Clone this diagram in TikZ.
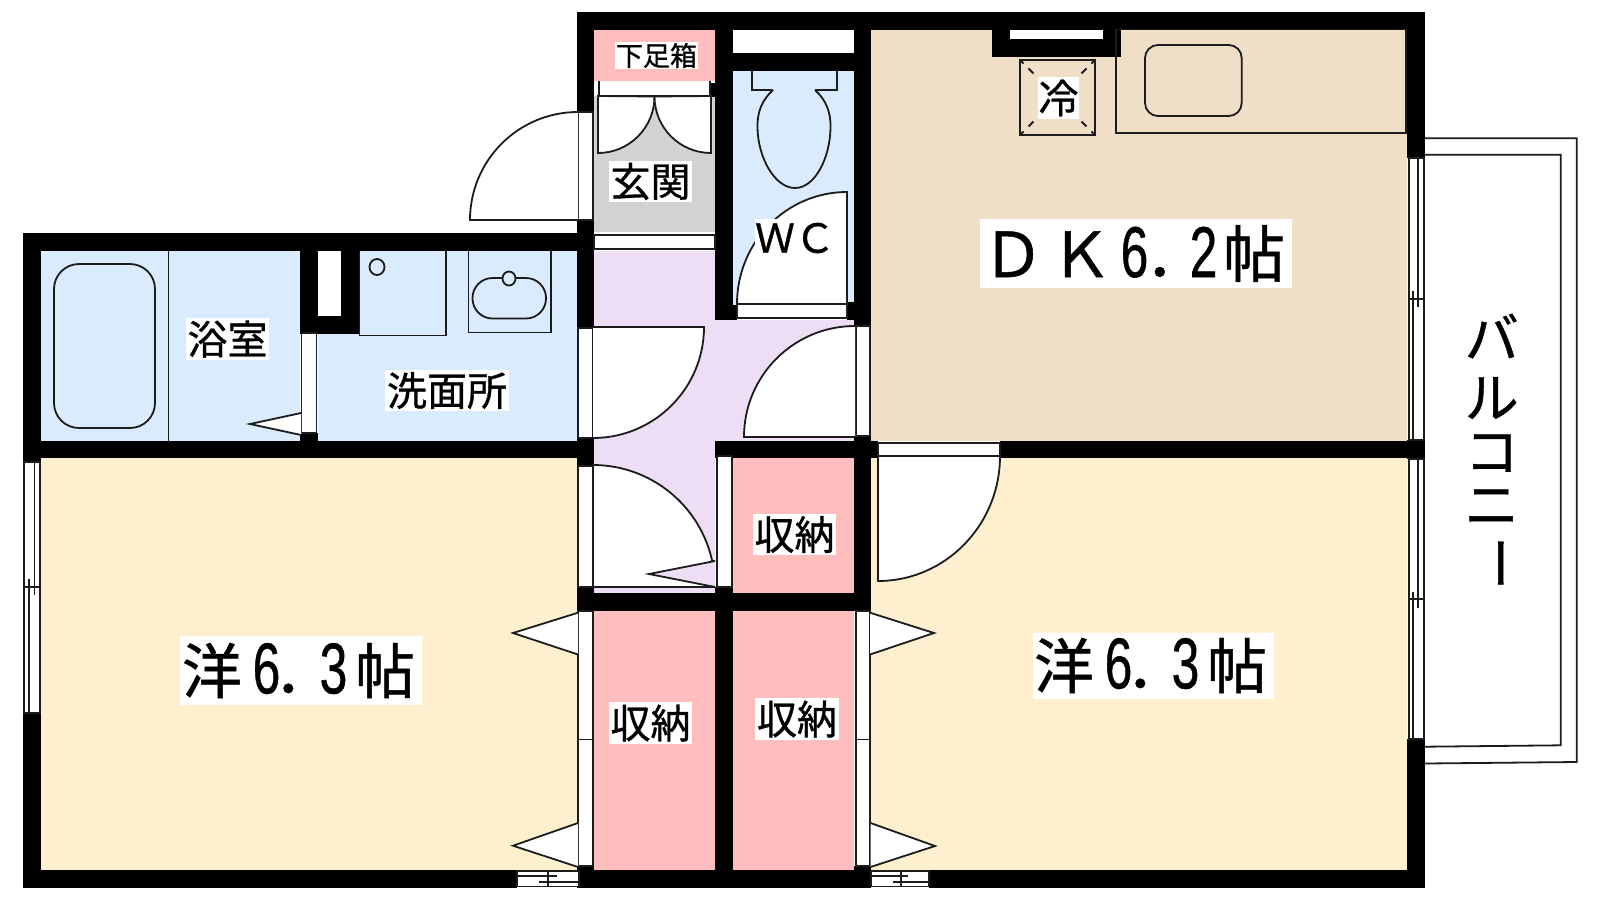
\documentclass[tikz,border=0pt]{standalone}
\usepackage{fontspec}
\setmainfont[FakeBold=0.8]{Noto Sans CJK JP}
\newfontfamily\libfont[FakeBold=0.8]{Liberation Sans}
\definecolor{cblue}{HTML}{DBEBFE}
\definecolor{cpurple}{HTML}{EDDDF5}
\definecolor{cpink}{HTML}{FFBEBE}
\definecolor{ccream}{HTML}{FEF0CF}
\definecolor{cbeige}{HTML}{EEDFC6}
\definecolor{cgray}{HTML}{D2D2D2}
\definecolor{cline}{HTML}{1C1C1C}
\newcommand{\fsz}[1]{\fontsize{#1}{#1}\selectfont}
\newcommand{\dgt}[1]{\makebox[31pt]{\scalebox{0.69}[1]{\libfont\fsz{72}#1}}}
\tikzset{
  ln/.style={draw=cline,line width=1.8pt},
  frm/.style={ln,fill=white},
  wall/.style={fill=black},
  lbl/.style={fill=white,inner sep=0pt,text=black,anchor=center},
}
\begin{document}
\begin{tikzpicture}[x=1pt,y=-1pt]
\useasboundingbox (0,0) rectangle (1600,900);
% room floors
\fill[cbeige] (871,29) rectangle (1407,441);
\fill[ccream] (41,458) rectangle (577,870);
\fill[ccream] (871,458) rectangle (1407,870);
\fill[cblue] (41,251) rectangle (300,441);
\fill[cblue] (300,333) rectangle (577,441);
\fill[cblue] (359,251) rectangle (577,333);
\fill[cblue] (733,71) rectangle (854,305);
\fill[cpurple] (594,251) rectangle (715,593);
\fill[cpurple] (715,320) rectangle (856,441);
\fill[cgray] (594,96) rectangle (715,232);
\fill[cpink] (594,29) rectangle (715,81);
\fill[cpink] (733,458) rectangle (854,593);
\fill[cpink] (594,611) rectangle (715,870);
\fill[cpink] (733,611) rectangle (854,870);
% white strips under door frames
\fill[white] (577,112) rectangle (594,220);
\fill[white] (594,81) rectangle (710,96);
\fill[white] (594,232) rectangle (715,251);
\fill[white] (577,328) rectangle (594,438);
\fill[white] (577,466) rectangle (594,587);
\fill[white] (577,611) rectangle (594,866);
\fill[white] (854,611) rectangle (871,866);
\fill[white] (854,326) rectangle (871,436);
\fill[white] (715,456) rectangle (733,587);
\fill[white] (300,333) rectangle (318,433);
\fill[white] (871,441) rectangle (1000,458);
% walls
\fill[wall] (577,12) rectangle (1425,29.5);
\fill[wall] (577,12) rectangle (594,112);
\fill[wall] (577,219) rectangle (594,328);
\fill[wall] (23,233) rectangle (594,251);
\fill[wall] (23,233) rectangle (41,462);
\fill[wall] (23,713) rectangle (41,888);
\fill[wall] (23,870) rectangle (517,888);
\fill[wall] (579,870) rectangle (871,888);
\fill[wall] (929,870) rectangle (1425,888);
\fill[wall] (577,866) rectangle (594,888);
\fill[wall] (854,866) rectangle (871,888);
\fill[wall] (23,441) rectangle (594,458);
\fill[wall] (577,438) rectangle (594,466);
\fill[wall] (300,251) rectangle (318,333);
\fill[wall] (341,251) rectangle (359.5,333.5);
\fill[wall] (300,316) rectangle (359.5,333.5);
\fill[wall] (300,433) rectangle (318,441);
\fill[wall] (715,12) rectangle (733,320);
\fill[wall] (710,83) rectangle (715,97);
\fill[wall] (733,53) rectangle (854,71);
\fill[wall] (854,12) rectangle (871,326);
\fill[wall] (715,305) rectangle (737,320);
\fill[wall] (847,302) rectangle (871,320);
\fill[wall] (715,441) rectangle (871,458);
\fill[wall] (715,441) rectangle (733,456);
\fill[wall] (854,436) rectangle (871,611);
\fill[wall] (871,441) rectangle (878,458);
\fill[wall] (1000,441) rectangle (1425,458);
\fill[wall] (1407,12) rectangle (1425,158);
\fill[wall] (1407,440) rectangle (1425,459);
\fill[wall] (1407,739) rectangle (1425,888);
\fill[wall] (577,593) rectangle (871,611);
\fill[wall] (577,587) rectangle (594,613);
\fill[wall] (715,587) rectangle (733,611);
\fill[wall] (715,593) rectangle (733,888);
\fill[wall] (992,29) rectangle (1121,57);
\fill[white] (1010,29.5) rectangle (1103,39);
% balcony
\draw[ln] (1425,138.3) -- (1576.7,138.3) -- (1576.7,762) -- (1425,763.5);
\draw[ln] (1425,154.7) -- (1560.7,154.7) -- (1560.7,745.3) -- (1425,746.7);
% windows
\draw[frm] (24,462) rectangle (40,713);
\draw[ln] (23,587) -- (41,587) (34.5,462) -- (34.5,595) (29.3,579) -- (29.3,713);
\draw[frm] (1409,158) rectangle (1424,440);
\draw[ln] (1409,298.7) -- (1424.7,298.7) (1418.3,158) -- (1418.3,307) (1413.3,290.7) -- (1413.3,440);
\draw[frm] (1409,459) rectangle (1424,739);
\draw[ln] (1409,599.3) -- (1424.7,599.3) (1418.3,459) -- (1418.3,608) (1413.3,591.7) -- (1413.3,739);
\draw[frm] (517,871) rectangle (579,886.5);
\draw[ln] (547.7,870) -- (547.7,887) (517,876) -- (556.7,876) (539.3,881.7) -- (579,881.7);
\draw[frm] (871,871) rectangle (929,886.5);
\draw[ln] (900.7,870) -- (900.7,887) (871,876) -- (908.3,876) (892.7,881.7) -- (929,881.7);
% door frames
\draw[frm] (578,112) rectangle (593,220);
\draw[ln] (599,81) -- (599,96) -- (710,96) -- (710,81);
\draw[frm] (594,235) rectangle (715,249);
\draw[frm] (578,328) rectangle (593,438);
\draw[frm] (578,466) rectangle (593,587);
\draw[frm] (716.7,456) rectangle (732,587);
\draw[frm] (855.7,326) rectangle (869.7,436);
\draw[frm] (737,304) rectangle (847,318);
\draw[frm] (878,443) rectangle (1000,456);
\draw[frm] (301.5,333) rectangle (316.5,433);
\draw[frm] (578,611) rectangle (593,866);
\draw[ln] (578,739.5) -- (593,739.5);
\draw[frm] (855.7,611) rectangle (869.7,866);
\draw[ln] (855.7,739.5) -- (869.7,739.5);
% door leaves
\draw[frm] (578,220) -- (470,220) arc[start angle=180,end angle=90,radius=108pt];
\draw[frm] (598,96) -- (598,153) arc[start angle=270,end angle=360,radius=56.5pt] -- cycle;
\draw[frm] (711,96) -- (711,153) arc[start angle=270,end angle=180,radius=56.5pt] -- cycle;
\draw[frm] (593,327) -- (704,327) arc[start angle=0,end angle=-90,radius=111pt];
\draw[frm] (593,587) -- (593,465) arc[start angle=90,end angle=12.3,radius=122pt] -- (715,561) -- (649,574) -- (715,587) -- cycle;
\draw[frm] (855,437) -- (744,437) arc[start angle=180,end angle=90,radius=111pt];
\draw[frm] (847,304) -- (737,304) arc[start angle=180,end angle=90,x radius=110pt,y radius=112pt] -- cycle;
\draw[frm] (878,456) -- (1000,456) arc[start angle=0,end angle=-90,x radius=122pt,y radius=125pt] -- cycle;
% folding-door triangles
\draw[frm] (578,612.7) -- (513,633) -- (578,654.5);
\draw[frm] (578,823) -- (513,845.7) -- (578,867);
\draw[frm] (870,612.7) -- (934,633) -- (870,654.5);
\draw[frm] (870.5,823) -- (935,846) -- (870.5,867);
\draw[frm] (301,413) -- (250,424) -- (301,435);
% bath fittings
\draw[ln] (168.5,251) -- (168.5,441);
\draw[ln,rounded corners=25pt] (54,264) rectangle (155,428);
\draw[ln] (359.5,251) -- (359.5,335.5) -- (446,335.5) -- (446,251);
\draw[ln] (377,267) ellipse [x radius=7.5pt,y radius=8pt];
\draw[ln] (468.5,251) -- (468.5,332.5) -- (551,332.5) -- (551,251);
\draw[ln,rounded corners=20pt] (472.5,278) rectangle (546,318.5);
\draw[ln,fill=cblue] (509,278.5) ellipse [x radius=6.5pt,y radius=7pt];
% toilet
\draw[ln] (752,71) -- (752,90) -- (773,90);
\draw[ln] (815,90) -- (837,90) -- (837,71);
\draw[ln] (773,90) .. controls (762,100) and (757,112) .. (757.5,128) .. controls (758,158) and (775,188) .. (795,188) .. controls (815,188) and (830,158) .. (830.5,128) .. controls (831,112) and (826,100) .. (815,90);
% kitchen
\draw[ln] (1116,29.5) rectangle (1406,133);
\draw[ln,rounded corners=13pt] (1145,45) rectangle (1241.7,116);
\draw[ln] (1020,60) rectangle (1095,135);
\draw[ln,dash pattern=on 5pt off 7pt on 7pt off 68pt on 7pt off 7pt on 5pt off 0pt] (1020,60) -- (1095,135);
\draw[ln,dash pattern=on 5pt off 7pt on 7pt off 68pt on 7pt off 7pt on 5pt off 0pt] (1095,60) -- (1020,135);
% labels
\node[lbl,minimum width=83pt,minimum height=27pt] (shoe) at (656.5,55.5) {\fsz{27}下足箱};
\node[lbl,minimum width=83pt,minimum height=41pt] (entry) at (650.5,181.5) {\fsz{40}玄関};
\node[lbl,minimum width=80pt,minimum height=38pt] (wc) at (795,238) {\fsz{40}ＷＣ};
\node[lbl,minimum width=83pt,minimum height=42pt] (bath) at (227.5,339) {\fsz{40}浴室};
\node[lbl,minimum width=124pt,minimum height=41pt] (wash) at (447,390.5) {\fsz{40}洗面所};
\node[lbl,minimum width=41pt,minimum height=42pt] (fridge) at (1058.5,98) {\fsz{40}冷};
\node[lbl,minimum width=312pt,minimum height=69pt] (dk) at (1136,253.5) {\fsz{62}Ｄ\kern6ptＫ\kern7pt\dgt{6}\kern-5pt．\kern-19pt\dgt{2}\kern4pt帖\kern5pt};
\node[lbl,minimum width=241.5pt,minimum height=69pt] (w1) at (301,670.5) {\fsz{60}洋\kern9pt\dgt{6}\kern-8pt．\kern-16pt\dgt{3}\kern6pt帖\kern5pt};
\node[lbl,minimum width=241pt,minimum height=66pt] (w2) at (1153,665.5) {\fsz{60}洋\kern9pt\dgt{6}\kern-8pt．\kern-16pt\dgt{3}\kern6pt帖\kern5pt};
\node[lbl,minimum width=83pt,minimum height=41pt] (c1) at (794.5,534.5) {\fsz{40}収納};
\node[lbl,minimum width=83pt,minimum height=42pt] (c2) at (650.5,723) {\fsz{40}収納};
\node[lbl,minimum width=84pt,minimum height=42pt] (c3) at (797,719) {\fsz{40}収納};
\node[inner sep=0pt] (b1) at (1491.7,336) {\fsz{54}バ};
\node[inner sep=0pt] (b2) at (1491.7,398) {\fsz{54}ル};
\node[inner sep=0pt] (b3) at (1491.7,453) {\fsz{54}コ};
\node[inner sep=0pt] (b4) at (1491.7,507) {\fsz{54}ニ};
\node[inner sep=0pt,rotate=-90] (b5) at (1491.7,563) {\fsz{54}ー};
\end{tikzpicture}
\end{document}
